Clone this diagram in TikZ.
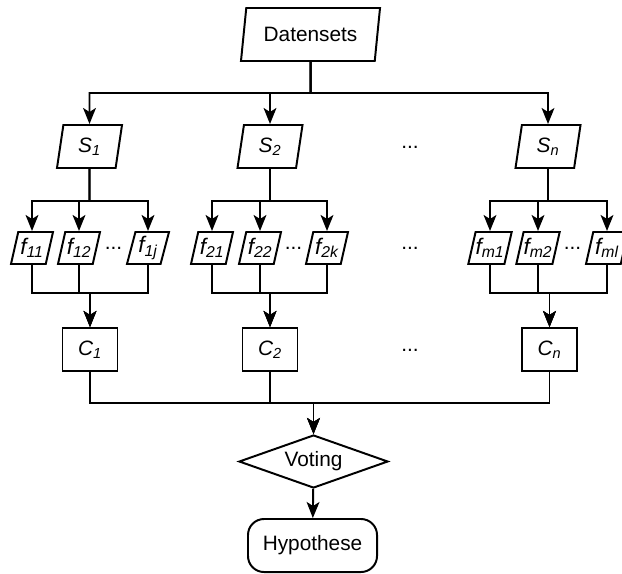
\documentclass[tikz,border=0pt]{standalone}
\usepackage{fontspec}
\setmainfont{Liberation Sans}
\usetikzlibrary{arrows.meta, shapes.geometric}

\begin{document}
\begin{tikzpicture}[>={Stealth[length=4mm, width=3.2mm, inset=1mm]}, line width=1.4pt,
    x=0.025cm, y=-0.025cm, font=\fontsize{14.8}{17}\selectfont,
    io/.style={draw, trapezium, trapezium left angle=70, trapezium right angle=110,
               trapezium stretches body, inner sep=0pt},
    subset/.style={io, minimum width=1.625cm, minimum height=1.075cm},
    feat/.style={io, minimum width=1.05cm, minimum height=0.8cm, font=\fontsize{16}{18}\selectfont},
    clf/.style={draw, minimum width=1.375cm, minimum height=1.075cm, inner sep=0pt}]

        \useasboundingbox (0,0) rectangle (622,573);

        \coordinate (bus1) at (0,93);
        \coordinate (bus2) at (0,201);
        \coordinate (bus3) at (0,293);
        \coordinate (bus4) at (0,403);

        \node[io, minimum width=3.475cm, minimum height=1.325cm] (data) at (310.5,34.5) {Datensets};

        \node[subset] (S1) at (89.5,146.5) {\textit{S\textsubscript{1}}};
        \node[subset] (S2) at (270,146.5) {\textit{S\textsubscript{2}}};
        \node[subset] (Sn) at (548,146.5) {\textit{S\textsubscript{n}}};
        \node (dS) at (410,147) {...};

        \node[feat] (f11) at (32,248) {\textit{f\textsubscript{11}}};
        \node[feat] (f12) at (79,248) {\textit{f\textsubscript{12}}};
        \node[feat] (f1j) at (148,248) {\textit{f\textsubscript{1j}}};
        \node (df1) at (113.5,248) {...};

        \node[feat] (f21) at (212,248) {\textit{f\textsubscript{21}}};
        \node[feat] (f22) at (260,248) {\textit{f\textsubscript{22}}};
        \node[feat] (f2k) at (327,248) {\textit{f\textsubscript{2k}}};
        \node (df2) at (293.5,248) {...};

        \node (dF) at (410,248) {...};

        \node[feat] (fm1) at (490,248) {\textit{f\textsubscript{m1}}};
        \node[feat] (fm2) at (538,248) {\textit{f\textsubscript{m2}}};
        \node[feat] (fml) at (607,248) {\textit{f\textsubscript{ml}}};
        \node (dfm) at (572.5,248) {...};

        \node[clf] (C1) at (90,349.5) {\textit{C\textsubscript{1}}};
        \node[clf] (C2) at (270,349.5) {\textit{C\textsubscript{2}}};
        \node[clf] (Cn) at (549.5,349.5) {\textit{C\textsubscript{n}}};
        \node (dC) at (410,350) {...};

        \node[draw, diamond, aspect=2.8, inner sep=0pt, minimum width=3.725cm,
              minimum height=1.325cm] (vote) at (313.5,461.5) {Voting};
        \node[draw, rounded corners=0.4cm, minimum width=3.225cm,
              minimum height=1.325cm] (hyp) at (312.5,545.5) {Hypothese};

        \draw[->] (data.south) |- (S1 |- bus1) -- (S1.north);
        \draw[->] (data.south) |- (S2 |- bus1) -- (S2.north);
        \draw[->] (data.south) |- (Sn |- bus1) -- (Sn.north);

        \draw[->] (S1.south) |- (f11 |- bus2) -- (f11.north);
        \draw[->] (S1.south) |- (f12 |- bus2) -- (f12.north);
        \draw[->] (S1.south) |- (f1j |- bus2) -- (f1j.north);
        \draw[->] (S2.south) |- (f21 |- bus2) -- (f21.north);
        \draw[->] (S2.south) |- (f22 |- bus2) -- (f22.north);
        \draw[->] (S2.south) |- (f2k |- bus2) -- (f2k.north);
        \draw[->] (Sn.south) |- (fm1 |- bus2) -- (fm1.north);
        \draw[->] (Sn.south) |- (fm2 |- bus2) -- (fm2.north);
        \draw[->] (Sn.south) |- (fml |- bus2) -- (fml.north);

        \draw[->] (f11.south) |- (C1 |- bus3) -- (C1.north);
        \draw[->] (f12.south) |- (C1 |- bus3) -- (C1.north);
        \draw[->] (f1j.south) |- (C1 |- bus3) -- (C1.north);
        \draw[->] (f21.south) |- (C2 |- bus3) -- (C2.north);
        \draw[->] (f22.south) |- (C2 |- bus3) -- (C2.north);
        \draw[->] (f2k.south) |- (C2 |- bus3) -- (C2.north);
        \draw[->] (fm1.south) |- (Cn |- bus3) -- (Cn.north);
        \draw[->] (fm2.south) |- (Cn |- bus3) -- (Cn.north);
        \draw[->] (fml.south) |- (Cn |- bus3) -- (Cn.north);

        \draw[->] (C1.south) |- (vote |- bus4) -- (vote.north);
        \draw[->] (C2.south) |- (vote |- bus4) -- (vote.north);
        \draw[->] (Cn.south) |- (vote |- bus4) -- (vote.north);

        \draw[->] (vote) -- (hyp);

    \end{tikzpicture}
\end{document}
